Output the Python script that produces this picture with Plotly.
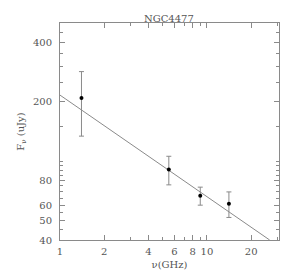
import plotly.graph_objects as go

# Data
freq_ghz = [1.40, 5.5, 9.0, 14.1]
flux_ujy = [209, 91, 67, 61]
flux_err = [75, 15, 7, 9]
fit_freq = [1.0, 26.7]
fit_flux = [216, 40]

x_tickvals = [1, 2, 4, 6, 8, 10, 20]
x_ticktext = ["1", "2", "4", "6", "8", "10", "20"]
x_minor = [3, 5, 7, 9, 30]
y_tickvals = [40, 50, 60, 80, 200, 400]
y_ticktext = ["40", "50", "60", "80", "200", "400"]
y_minor = [45, 55, 65, 70, 75, 85, 90, 95, 100, 150, 250, 300, 350, 450]

grey = "#8a8a8a"
txt = "#555555"
font = "DejaVu Serif"

fig = go.Figure()
fig.add_trace(go.Scatter(
    x=fit_freq, y=fit_flux, mode="lines",
    line=dict(color=grey, width=1), showlegend=False, hoverinfo="skip"))
fig.add_trace(go.Scatter(
    x=freq_ghz, y=flux_ujy, mode="markers",
    marker=dict(color="black", size=4),
    error_y=dict(type="data", array=flux_err, color=grey, thickness=1, width=2.5),
    showlegend=False))

axis_common = dict(
    type="log", showgrid=False, zeroline=False,
    showline=True, linecolor=grey, linewidth=1, mirror="allticks",
    ticks="inside", tickcolor=grey, ticklen=5, tickwidth=1,
    tickfont=dict(family=font, size=10, color=txt),
)

fig.update_layout(
    width=298, height=272,
    margin=dict(l=52, r=27, t=15, b=35),
    paper_bgcolor="white", plot_bgcolor="white",
    title=dict(text="NGC4477", x=0.54, xanchor="center", y=0.975, yanchor="top",
               font=dict(family=font, size=10, color=txt)),
    xaxis=dict(axis_common, range=[0, 1.49], tickmode="array",
               tickvals=x_tickvals, ticktext=x_ticktext, ticklabelstandoff=2,
               minor=dict(tickmode="array", tickvals=x_minor, ticks="inside",
                          ticklen=3, tickcolor=grey),
               title=dict(text="ν(GHz)", font=dict(family=font, size=10, color=txt),
                          standoff=4)),
    yaxis=dict(axis_common, range=[1.60206, 2.699], tickmode="array",
               tickvals=y_tickvals, ticktext=y_ticktext, ticklabelstandoff=5,
               minor=dict(tickmode="array", tickvals=y_minor, ticks="inside",
                          ticklen=3, tickcolor=grey),
               title=dict(text="F<sub>ν</sub> (uJy)",
                          font=dict(family=font, size=10, color=txt), standoff=6)),
)

fig.write_html("out.html")
